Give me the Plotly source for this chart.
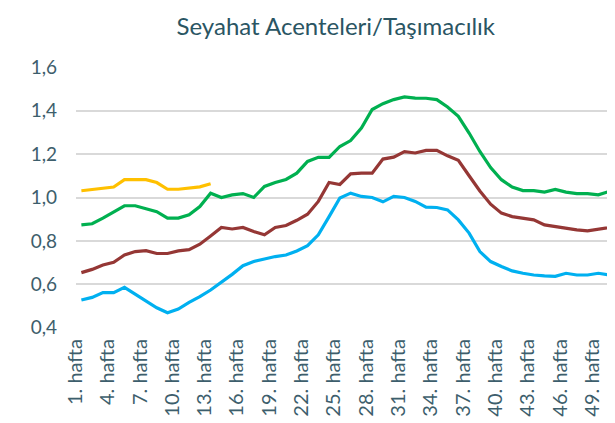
import plotly.graph_objects as go

weeks = list(range(1, 53))
tick_weeks = list(range(1, 53, 3))
tick_labels = [f"{w}. hafta" for w in tick_weeks]

green = [0.874, 0.879, 0.905, 0.935, 0.962, 0.962, 0.948, 0.935, 0.905, 0.905,
         0.920, 0.958, 1.020, 1.000, 1.012, 1.018, 1.000, 1.051, 1.069, 1.083,
         1.112, 1.166, 1.185, 1.185, 1.235, 1.262, 1.320, 1.405, 1.432, 1.451,
         1.463, 1.458, 1.457, 1.451, 1.417, 1.374, 1.297, 1.212, 1.138, 1.082,
         1.048, 1.032, 1.032, 1.025, 1.037, 1.025, 1.018, 1.018, 1.012, 1.028,
         1.035, 1.045]
red = [0.654, 0.669, 0.689, 0.702, 0.735, 0.751, 0.755, 0.742, 0.742, 0.754,
       0.760, 0.785, 0.823, 0.862, 0.855, 0.862, 0.843, 0.828, 0.862, 0.871,
       0.895, 0.923, 0.982, 1.069, 1.060, 1.109, 1.112, 1.112, 1.177, 1.186,
       1.211, 1.205, 1.217, 1.217, 1.192, 1.171, 1.100, 1.030, 0.969, 0.928,
       0.912, 0.905, 0.897, 0.874, 0.866, 0.858, 0.851, 0.846, 0.855, 0.863,
       0.871, 0.878]
blue = [0.528, 0.540, 0.562, 0.562, 0.586, 0.554, 0.520, 0.492, 0.469, 0.486,
        0.517, 0.543, 0.574, 0.608, 0.646, 0.686, 0.705, 0.717, 0.728, 0.735,
        0.754, 0.778, 0.828, 0.912, 0.998, 1.020, 1.005, 1.000, 0.980, 1.005,
        1.000, 0.982, 0.956, 0.954, 0.943, 0.897, 0.836, 0.751, 0.705, 0.682,
        0.662, 0.651, 0.643, 0.639, 0.637, 0.651, 0.643, 0.643, 0.651, 0.643,
        0.662, 0.675]
yellow = [1.031, 1.037, 1.043, 1.048, 1.082, 1.082, 1.082, 1.069, 1.038, 1.038,
          1.043, 1.049, 1.063]

y_ticks = [0.4, 0.6, 0.8, 1.0, 1.2, 1.4, 1.6]
y_tick_labels = ["0,4", "0,6", "0,8", "1,0", "1,2", "1,4", "1,6"]

series = [
    ("green", green, "#00b050"),
    ("red", red, "#953735"),
    ("blue", blue, "#00b0f0"),
    ("yellow", yellow, "#ffc000"),
]

fig = go.Figure()
for name, vals, color in series:
    fig.add_trace(go.Scatter(
        x=weeks[:len(vals)], y=vals, mode="lines", name=name,
        line=dict(color=color, width=3.2, shape="linear"),
        showlegend=False, hoverinfo="skip",
    ))

text_color = "#3d5e6c"
fig.update_layout(
    width=615, height=423,
    paper_bgcolor="white", plot_bgcolor="white",
    margin=dict(l=68, r=0, t=59, b=103, autoexpand=False),
    title=dict(text="Seyahat Acenteleri/Taşımacılık", x=0.533, xanchor="center",
               xref="container", y=0.955, yanchor="middle", yref="container",
               font=dict(family="Lato", size=24, color="#2a5563")),
    font=dict(family="Lato", color=text_color),
)
fig.update_xaxes(
    range=[0.5, 51.29], tickmode="array", tickvals=tick_weeks, ticktext=tick_labels,
    tickangle=-90, showgrid=False, zeroline=False, showline=False, automargin=False,
    tickfont=dict(family="Lato", size=20, color=text_color),
    ticks="", ticklabelstandoff=6, ticklabelshift=-6,
)
fig.update_yaxes(
    range=[0.399, 1.601], tickmode="array", tickvals=y_ticks, ticktext=y_tick_labels,
    showgrid=True, gridcolor="#d9d9d9", gridwidth=1.5, zeroline=False, showline=False,
    automargin=False,
    tickfont=dict(family="Lato", size=19, color=text_color),
    ticks="", ticklabelstandoff=18,
)

fig.write_html("out.html")
